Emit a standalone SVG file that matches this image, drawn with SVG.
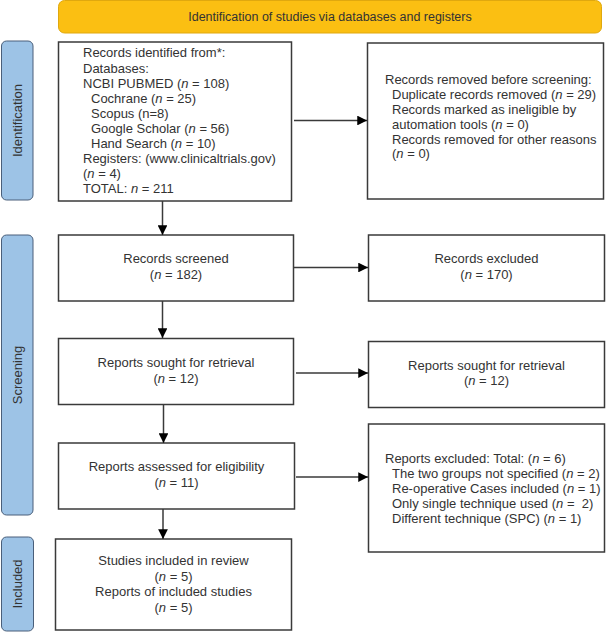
<svg xmlns="http://www.w3.org/2000/svg" width="606" height="633" viewBox="0 0 606 633">
<defs>
<style>
text{font-family:"Liberation Sans",Arial,sans-serif;font-size:13px;fill:#333}
.c{text-anchor:middle}
.i{font-style:italic}
.pre{white-space:pre}
.box{fill:#fff;stroke:#3a3a3a;stroke-width:1.5}
.side{fill:#9DC3E6;stroke:#4a5f7a;stroke-width:1}
.ban{fill:#FBBF12;stroke:#E0A80E;stroke-width:1}
.ln{stroke:#3a3a3a;stroke-width:1.5;fill:none;marker-end:url(#ah)}
</style>
<marker id="ah" viewBox="0 0 10 10" refX="10" refY="5" markerWidth="6.5" markerHeight="6.5" markerUnits="strokeWidth" orient="auto">
<path d="M0,0L10,5L0,10z" fill="#000"/>
</marker>
</defs>
<g id="banner">
<rect class="ban" x="58.5" y="0.5" width="543" height="32.5" rx="6"/>
<text class="c" x="330" y="21" style="font-size:12.5px">Identification of studies via databases and registers</text>
</g>
<g id="label-identification">
<rect class="side" x="1.5" y="41" width="31.5" height="159" rx="5"/>
<text class="c" transform="translate(21.5,120.5) rotate(-90)">Identification</text>
</g>
<g id="label-screening">
<rect class="side" x="1.5" y="235" width="31.5" height="280" rx="5"/>
<text class="c" transform="translate(21.5,375) rotate(-90)">Screening</text>
</g>
<g id="label-included">
<rect class="side" x="1.5" y="537" width="32" height="94" rx="5"/>
<text class="c" transform="translate(22,584) rotate(-90)">Included</text>
</g>
<g id="identified">
<rect class="box" x="58.5" y="42" width="233" height="159"/>
<text x="83" y="57">Records identified from*:</text>
<text x="83" y="72.5">Databases:</text>
<text x="83" y="87.5">NCBI PUBMED (<tspan class="i">n</tspan> = 108)</text>
<text x="91" y="102.5">Cochrane (<tspan class="i">n</tspan> = 25)</text>
<text x="91" y="117.5">Scopus (n=8)</text>
<text x="91" y="132.5">Google Scholar (<tspan class="i">n</tspan> = 56)</text>
<text x="91" y="148">Hand Search (<tspan class="i">n</tspan> = 10)</text>
<text x="83" y="163">Registers: (www.clinicaltrials.gov)</text>
<text x="83" y="178">(<tspan class="i">n</tspan> = 4)</text>
<text x="83" y="193">TOTAL: <tspan class="i">n</tspan> = 211</text>
</g>
<g id="removed">
<rect class="box" x="367.5" y="43" width="236" height="156"/>
<text x="385" y="84">Records removed before screening:</text>
<text x="392" y="99">Duplicate records removed (<tspan class="i">n</tspan> = 29)</text>
<text x="392" y="114">Records marked as ineligible by</text>
<text x="392" y="129">automation tools (<tspan class="i">n</tspan> = 0)</text>
<text x="392" y="143.5">Records removed for other reasons</text>
<text x="392" y="158">(<tspan class="i">n</tspan> = 0)</text>
</g>
<g id="screened">
<rect class="box" x="58.5" y="235" width="235" height="66"/>
<text class="c" x="176" y="263">Records screened</text>
<text class="c" x="176" y="279">(<tspan class="i">n</tspan> = 182)</text>
</g>
<g id="excluded">
<rect class="box" x="368.5" y="235" width="236" height="66"/>
<text class="c" x="486.5" y="263">Records excluded</text>
<text class="c" x="486.5" y="279">(<tspan class="i">n</tspan> = 170)</text>
</g>
<g id="sought">
<rect class="box" x="58.5" y="338.5" width="235" height="66"/>
<text class="c" x="176" y="367">Reports sought for retrieval</text>
<text class="c" x="176" y="383">(<tspan class="i">n</tspan> = 12)</text>
</g>
<g id="sought-right">
<rect class="box" x="368.5" y="341.5" width="236" height="66"/>
<text class="c" x="486.5" y="369.5">Reports sought for retrieval</text>
<text class="c" x="486.5" y="385">(<tspan class="i">n</tspan> = 12)</text>
</g>
<g id="assessed">
<rect class="box" x="58.5" y="443" width="236" height="66"/>
<text class="c" x="176.5" y="471">Reports assessed for eligibility</text>
<text class="c" x="176.5" y="487">(<tspan class="i">n</tspan> = 11)</text>
</g>
<g id="reports-excluded">
<rect class="box" x="368.5" y="424" width="236" height="128"/>
<text x="385" y="463">Reports excluded: Total: (<tspan class="i">n</tspan> = 6)</text>
<text x="392" y="478">The two groups not specified (<tspan class="i">n</tspan> = 2)</text>
<text x="392" y="493">Re-operative Cases included (<tspan class="i">n</tspan> = 1)</text>
<text x="392" y="508" class="pre">Only single technique used (<tspan class="i">n</tspan> =  2)</text>
<text x="392" y="523">Different technique (SPC) (<tspan class="i">n</tspan> = 1)</text>
</g>
<g id="included">
<rect class="box" x="55.5" y="539" width="236" height="91"/>
<text class="c" x="173.5" y="565">Studies included in review</text>
<text class="c" x="173.5" y="581">(<tspan class="i">n</tspan> = 5)</text>
<text class="c" x="173.5" y="596">Reports of included studies</text>
<text class="c" x="173.5" y="612">(<tspan class="i">n</tspan> = 5)</text>
</g>
<g id="connectors">
<line class="ln" x1="294" y1="120.5" x2="367" y2="120.5"/>
<line class="ln" x1="162.5" y1="201" x2="162.5" y2="235"/>
<line class="ln" x1="294" y1="267.5" x2="368" y2="267.5"/>
<line class="ln" x1="162.5" y1="301" x2="162.5" y2="338"/>
<line class="ln" x1="296" y1="373" x2="368" y2="373"/>
<line class="ln" x1="163.5" y1="404.5" x2="163.5" y2="443"/>
<line class="ln" x1="296" y1="477" x2="368" y2="477"/>
<line class="ln" x1="163" y1="509" x2="163" y2="539"/>
</g>
</svg>
